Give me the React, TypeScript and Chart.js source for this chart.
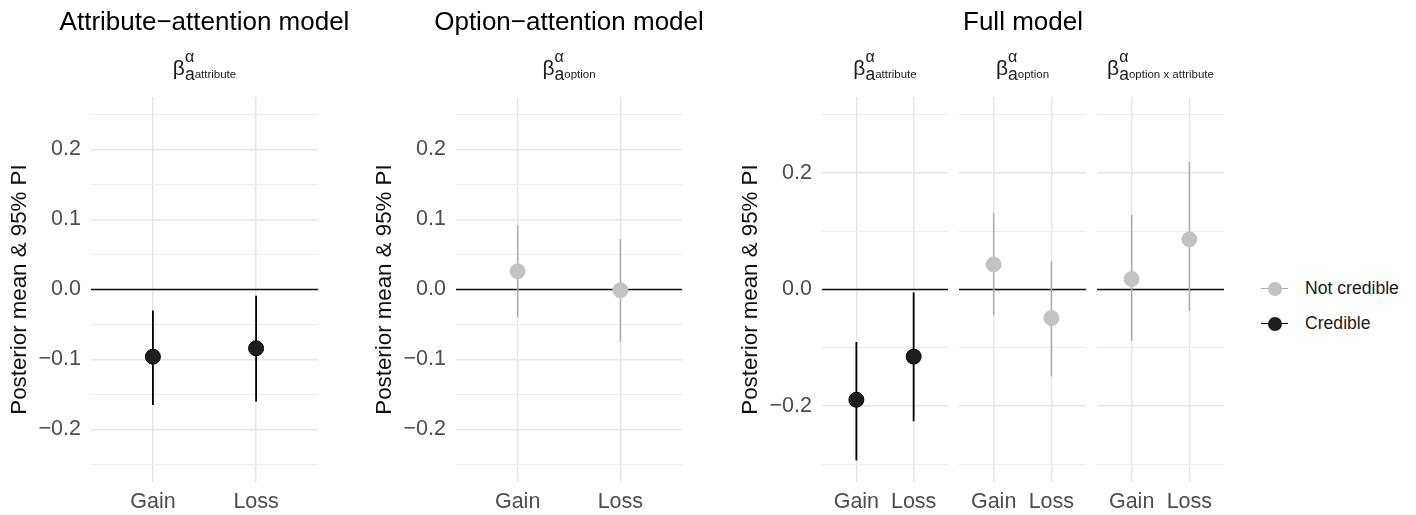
import React, { useEffect, useRef } from 'react';
import { Chart, registerables } from 'chart.js';

Chart.register(...registerables);

const FONT = '"Liberation Sans", Arial, Helvetica, sans-serif';
Chart.defaults.font.family = FONT;

// ---------- data ----------
const categories = ['Gain', 'Loss'];
const categoryPositions = [1, 2];
const xMin = 0.4;
const xMax = 2.6;

const attnMajorTicks = [-0.2, -0.1, 0, 0.1, 0.2];
const attnMinorTicks = [-0.25, -0.15, -0.05, 0.05, 0.15, 0.25];
const attnLimit = 0.275;
const fullMajorTicks = [-0.2, 0, 0.2];
const fullMinorTicks = [-0.3, -0.1, 0.1, 0.3];
const fullLimit = 0.33;

// Attribute-attention model
const attrModelMean = [-0.096, -0.084];
const attrModelLow = [-0.165, -0.16];
const attrModelHigh = [-0.03, -0.009];
// Option-attention model
const optModelMean = [0.026, -0.001];
const optModelLow = [-0.039, -0.075];
const optModelHigh = [0.092, 0.072];
// Full model: attribute
const fullAttrMean = [-0.189, -0.115];
const fullAttrLow = [-0.293, -0.226];
const fullAttrHigh = [-0.09, -0.005];
// Full model: option
const fullOptMean = [0.043, -0.049];
const fullOptLow = [-0.044, -0.149];
const fullOptHigh = [0.131, 0.048];
// Full model: option x attribute
const fullIntMean = [0.018, 0.086];
const fullIntLow = [-0.088, -0.037];
const fullIntHigh = [0.128, 0.219];

const modelTitles = ['Attribute\u2212attention model', 'Option\u2212attention model', 'Full model'];
const stripSubs = ['attribute', 'option', 'attribute', 'option', 'option x attribute'];
const yAxisTitle = 'Posterior mean & 95% PI';
const legendLabels = ['Not credible', 'Credible'];

// ---------- styles ----------
const CRED_FILL = '#1e1e1e';
const CRED_LINE = '#000000';
const NC_FILL = '#c3c3c5';
const NC_LINE = '#ababab';
const GRID_MAJOR = '#e6e6e6';
const GRID_MINOR = '#ededed';
const TICK_COLOR = '#4d4d4d';
const H = 515;
const PLOT_TOP = 97;
const X_AXIS_H = 33;
const Y_AXIS_W = 91;

type PanelSpec = {
  left: number;
  width: number;
  showAxis: boolean;
  mean: number[];
  low: number[];
  high: number[];
  major: number[];
  minor: number[];
  limit: number;
};

const panels: PanelSpec[] = [
  { left: 0, width: 318, showAxis: true, mean: attrModelMean, low: attrModelLow, high: attrModelHigh, major: attnMajorTicks, minor: attnMinorTicks, limit: attnLimit },
  { left: 365, width: 317, showAxis: true, mean: optModelMean, low: optModelLow, high: optModelHigh, major: attnMajorTicks, minor: attnMinorTicks, limit: attnLimit },
  { left: 731, width: 217, showAxis: true, mean: fullAttrMean, low: fullAttrLow, high: fullAttrHigh, major: fullMajorTicks, minor: fullMinorTicks, limit: fullLimit },
  { left: 959, width: 127, showAxis: false, mean: fullOptMean, low: fullOptLow, high: fullOptHigh, major: fullMajorTicks, minor: fullMinorTicks, limit: fullLimit },
  { left: 1097, width: 127, showAxis: false, mean: fullIntMean, low: fullIntLow, high: fullIntHigh, major: fullMajorTicks, minor: fullMinorTicks, limit: fullLimit },
];

const fmt = (v: number) => {
  const s = Math.abs(v).toFixed(1);
  return v < -1e-9 ? '\u2212' + s : s;
};

function Panel({ spec }: { spec: PanelSpec }) {
  const ref = useRef<HTMLCanvasElement>(null);
  useEffect(() => {
    if (!ref.current) return;
    const { mean, low, high, major, minor, limit, showAxis } = spec;
    const isMajor = (v: number) => major.some((m) => Math.abs(m - v) < 1e-9);
    const credible = mean.map((_, i) => low[i] > 0 || high[i] < 0);
    const datasets: any[] = [];
    datasets.push({
      data: [{ x: xMin, y: 0 }, { x: xMax, y: 0 }],
      showLine: true,
      borderColor: '#111111',
      borderWidth: 1.6,
      pointRadius: 0,
      order: 3,
    });
    categoryPositions.forEach((x, i) => {
      datasets.push({
        data: [{ x, y: low[i] }, { x, y: high[i] }],
        showLine: true,
        borderColor: credible[i] ? CRED_LINE : NC_LINE,
        borderWidth: credible[i] ? 1.8 : 1.5,
        pointRadius: 0,
        order: 2,
      });
    });
    datasets.push({
      data: categoryPositions.map((x, i) => ({ x, y: mean[i] })),
      showLine: false,
      pointRadius: 7.5,
      pointBackgroundColor: credible.map((c) => (c ? CRED_FILL : NC_FILL)),
      pointBorderColor: credible.map((c) => (c ? '#000000' : NC_FILL)),
      pointBorderWidth: 1,
      order: 1,
    });

    const chart = new Chart(ref.current, {
      type: 'scatter',
      data: { datasets },
      options: {
        responsive: false,
        animation: false,
        devicePixelRatio: 1,
        events: [],
        layout: { autoPadding: false, padding: { top: PLOT_TOP, left: 0, right: 0, bottom: 0 } },
        plugins: { legend: { display: false }, tooltip: { enabled: false }, title: { display: false } },
        scales: {
          x: {
            type: 'linear',
            min: xMin,
            max: xMax,
            bounds: 'data',
            afterBuildTicks: (s: any) => {
              s.ticks = categoryPositions.map((v) => ({ value: v }));
            },
            afterFit: (s: any) => {
              s.height = X_AXIS_H;
              s.paddingLeft = 0;
              s.paddingRight = 0;
            },
            ticks: {
              autoSkip: false,
              maxRotation: 0,
              padding: 7,
              color: TICK_COLOR,
              font: { size: 21.5, family: FONT },
              callback: (v: any) => {
                const idx = categoryPositions.indexOf(Number(v));
                return idx >= 0 ? categories[idx] : '';
              },
            },
            grid: { color: GRID_MAJOR, lineWidth: 1.5, drawTicks: false },
            border: { display: false },
          },
          y: {
            type: 'linear',
            min: -limit,
            max: limit,
            bounds: 'data',
            afterBuildTicks: (s: any) => {
              s.ticks = [...major, ...minor].sort((a, b) => a - b).map((v) => ({ value: v }));
            },
            afterFit: (s: any) => {
              s.width = showAxis ? Y_AXIS_W : 0;
            },
            ticks: {
              display: showAxis,
              autoSkip: false,
              padding: 10,
              color: TICK_COLOR,
              font: { size: 21.5, family: FONT },
              callback: (v: any) => (isMajor(Number(v)) ? fmt(Number(v)) : ''),
            },
            grid: {
              drawTicks: false,
              color: (ctx: any) => (ctx.tick && isMajor(ctx.tick.value) ? GRID_MAJOR : GRID_MINOR),
              lineWidth: (ctx: any) => (ctx.tick && isMajor(ctx.tick.value) ? 1.5 : 1.1),
            },
            border: { display: false },
            title: {
              display: showAxis,
              text: yAxisTitle,
              color: '#111111',
              font: { size: 22.3, family: FONT },
              padding: { top: 6, bottom: 0 },
            },
          },
        },
      } as any,
    });
    return () => chart.destroy();
  }, [spec]);
  return (
    <canvas
      ref={ref}
      width={spec.width}
      height={H}
      style={{ position: 'absolute', left: spec.left, top: 0, width: spec.width, height: H }}
    />
  );
}

function StripLabel({ cx, sub }: { cx: number; sub: string }) {
  return (
    <div
      style={{
        position: 'absolute',
        left: cx,
        top: 53,
        transform: 'translateX(-50%)',
        whiteSpace: 'nowrap',
        fontFamily: FONT,
        fontSize: 21,
        lineHeight: '30px',
        color: '#1a1a1a',
      }}
    >
      <span>β</span>
      <span style={{ position: 'relative' }}>
        <span style={{ fontSize: 17.5, position: 'relative', top: 5 }}>a</span>
        <span style={{ position: 'absolute', left: 0, top: -7, fontSize: 16, lineHeight: '16px' }}>α</span>
      </span>
      <span style={{ fontSize: 11.5, position: 'relative', top: 3 }}>{sub}</span>
    </div>
  );
}

function Title({ cx, text }: { cx: number; text: string }) {
  return (
    <div
      style={{
        position: 'absolute',
        left: cx,
        top: 6,
        transform: 'translateX(-50%)',
        whiteSpace: 'nowrap',
        fontFamily: FONT,
        fontSize: 26,
        lineHeight: '30px',
        color: '#000000',
      }}
    >
      {text}
    </div>
  );
}

function LegendRow({ cy, label, fill, line }: { cy: number; label: string; fill: string; line: string }) {
  return (
    <div
      style={{
        position: 'absolute',
        left: 1261,
        top: cy - 12,
        height: 24,
        display: 'flex',
        alignItems: 'center',
        fontFamily: FONT,
        fontSize: 17.6,
        color: '#1a1a1a',
        whiteSpace: 'nowrap',
      }}
    >
      <div style={{ position: 'relative', width: 27, height: 24 }}>
        <div style={{ position: 'absolute', left: 0, width: 27, top: 11.25, height: 1.5, background: line }} />
        <div
          style={{
            position: 'absolute',
            left: 13.5 - 7,
            top: 12 - 7,
            width: 14,
            height: 14,
            borderRadius: '50%',
            background: fill,
          }}
        />
      </div>
      <span style={{ marginLeft: 17 }}>{label}</span>
    </div>
  );
}

export default function App() {
  const centers = panels.map((p) => p.left + (p.showAxis ? Y_AXIS_W : 0) + (p.width - (p.showAxis ? Y_AXIS_W : 0)) / 2);
  return (
    <div
      style={{
        position: 'absolute',
        left: 0,
        top: 0,
        width: 1416,
        height: H,
        background: '#ffffff',
        overflow: 'hidden',
        fontFamily: FONT,
      }}
    >
      {panels.map((p, i) => (
        <Panel key={i} spec={p} />
      ))}
      <Title cx={centers[0]} text={modelTitles[0]} />
      <Title cx={centers[1]} text={modelTitles[1]} />
      <Title cx={(panels[2].left + Y_AXIS_W + panels[4].left + panels[4].width) / 2} text={modelTitles[2]} />
      {centers.map((c, i) => (
        <StripLabel key={i} cx={c} sub={stripSubs[i]} />
      ))}
      <LegendRow cy={288.5} label={legendLabels[0]} fill={NC_FILL} line={NC_LINE} />
      <LegendRow cy={323.5} label={legendLabels[1]} fill={CRED_FILL} line={CRED_LINE} />
    </div>
  );
}
